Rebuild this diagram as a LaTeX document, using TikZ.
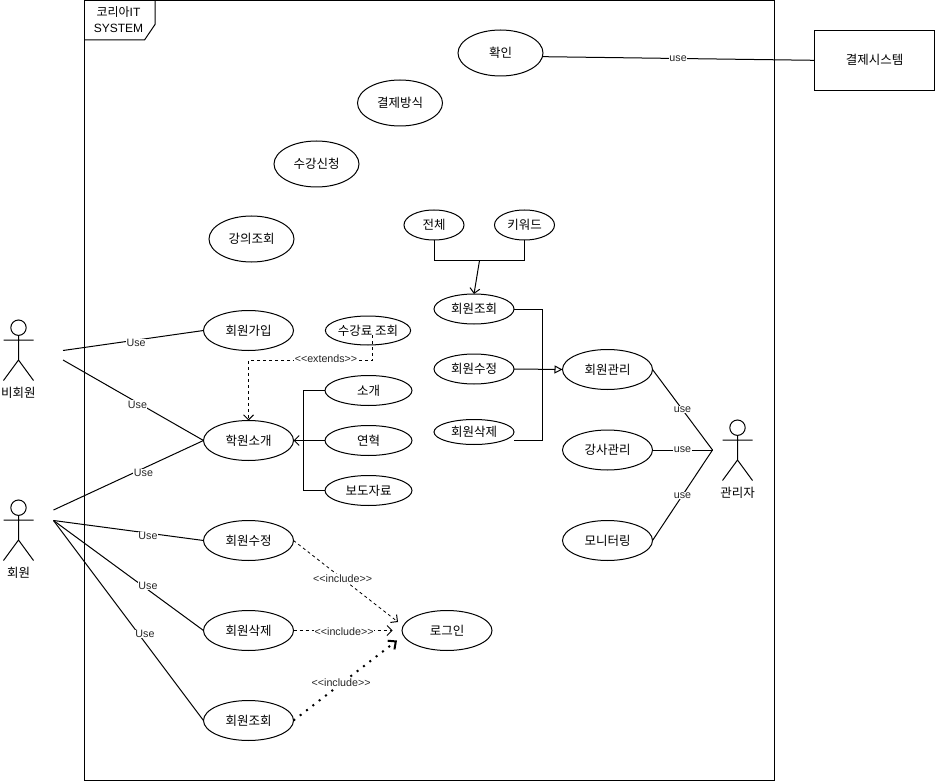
\documentclass[tikz,border=0pt]{standalone}
\usepackage{fontspec}
\setmainfont{Noto Sans CJK KR}
\newfontfamily\latinfont{Liberation Sans}
\usetikzlibrary{shapes.geometric,arrows.meta}

\tikzset{
  usecase/.style={ellipse, draw, line width=1pt, inner sep=0pt, outer sep=0pt,
    minimum width=#1, font=\fontsize{12.5}{15}\selectfont},
  usecase/.default=90pt,
  edgelabel/.style={fill=white, inner sep=.5pt, text=black!85,
    font=\latinfont\fontsize{10.7}{12}\selectfont},
  conn/.style={line width=1pt},
  opentip/.style={-{Straight Barb[length=5pt,width=10pt,line width=1pt]}},
  thindash/.style={line width=.8pt, dash pattern=on 3pt off 3pt},
  actortext/.style={font=\fontsize{12.5}{15}\selectfont, inner sep=0pt},
  actorpic/.pic={
    \draw[conn] (0,-12.3) circle (7.7);
    \draw[conn] (0,-4.6) -- (0,20) (-15,0) -- (15,0)
      (-15,40.5) -- (0,20) -- (15,40.5);
  }
}

\begin{document}
\begin{tikzpicture}[x=1pt,y=-1pt,line join=miter]
    \useasboundingbox (0,0) rectangle (935,781);

    %system frame
    \draw[conn] (84.5,0.5) rectangle (774.5,780);
    \draw[conn] (84.5,40) -- (144.5,40) -- (155,24.5) -- (155,0.5);
    \node[align=center, inner sep=0pt, font=\fontsize{12}{16}\selectfont] (title) at (118.5,20)
      {코리아{\latinfont IT}\\{\latinfont SYSTEM}};

    %use cases
    \node[usecase=85pt, minimum height=46pt] (hwagin) at (500.5,53) {확인};
    \node[usecase=85pt, minimum height=46pt] (bangsik) at (400,103) {결제방식};
    \node[usecase=85pt, minimum height=46pt] (sincheong) at (316.5,164) {수강신청};
    \node[usecase=85pt, minimum height=46pt] (gangui) at (251.5,239) {강의조회};
    \node[usecase, minimum height=40pt] (gaip) at (248.5,330.5) {회원가입};
    \node[usecase, minimum height=40pt] (sogae) at (248.5,440.5) {학원소개};
    \node[usecase, minimum height=40pt] (sujeong) at (248.5,540.5) {회원수정};
    \node[usecase, minimum height=40pt] (sakje) at (248.5,630.5) {회원삭제};
    \node[usecase, minimum height=40pt] (johoe) at (248.5,720.5) {회원조회};
    \node[usecase, minimum height=40pt] (login) at (447,630.5) {로그인};
    \node[usecase=85pt, minimum height=29pt] (fee) at (368,330.5) {수강료 조회};
    \node[usecase=87pt, minimum height=30pt] (intro) at (368.5,390.5) {소개};
    \node[usecase=87pt, minimum height=30pt] (history) at (368.5,440.5) {연혁};
    \node[usecase=87pt, minimum height=30pt] (press) at (368.5,490.5) {보도자료};
    \node[usecase=60pt, minimum height=30pt] (all) at (434,225) {전체};
    \node[usecase=60pt, minimum height=30pt] (keyword) at (524.5,225) {키워드};
    \node[usecase=80pt, minimum height=30pt] (mjohoe) at (474,309) {회원조회};
    \node[usecase=80pt, minimum height=30pt] (msujeong) at (474,369) {회원수정};
    \node[usecase=80pt, minimum height=25pt] (msakje) at (474,432) {회원삭제};
    \node[usecase, minimum height=40pt] (manage) at (607.5,369.5) {회원관리};
    \node[usecase, minimum height=40pt] (teacher) at (607.5,450) {강사관리};
    \node[usecase, minimum height=40pt] (monitor) at (607.5,540.5) {모니터링};

    %outside system
    \node[draw, line width=1pt, minimum width=120.5pt, minimum height=60pt, inner sep=0pt,
      font=\fontsize{12.5}{15}\selectfont] (pay) at (874.5,60.3) {결제시스템};

    %actors
    \pic at (18.5,340) {actorpic};
    \pic at (18.5,520) {actorpic};
    \pic at (737.5,440) {actorpic};
    \node[actortext] (guest) at (18.5,393) {비회원};
    \node[actortext] (member) at (18.5,573) {회원};
    \node[actortext] (admin) at (737.5,493) {관리자};

    %free ends
    \coordinate (guest1) at (63,350.5);
    \coordinate (guest2) at (63,360);
    \coordinate (member1) at (53.5,510);
    \coordinate (member2) at (53.5,520.5);
    \coordinate (adminhand) at (712.5,450);
    \coordinate (feeend) at (372.5,335);
    \coordinate (extbend) at (248.5,360.5);
    \coordinate (incl1) at (398,622);
    \coordinate (incl2) at (392.7,630.5);
    \coordinate (incl3) at (397,640.5);
    \coordinate (jointop) at (479.5,260.5);
    \coordinate (forkmid) at (542.5,369);
    \coordinate (deleteend) at (514,440);
    \coordinate (forkbar) at (303.5,440.5);

    %actor links
    \draw[conn] (guest1) -- node[edgelabel, pos=.52, yshift=-3pt] (use1) {Use} (gaip.west);
    \draw[conn] (guest2) -- node[edgelabel, pos=.53, yshift=-2pt] (use2) {Use} (sogae.west);
    \draw[conn] (member1) -- node[edgelabel, pos=.6, yshift=-5pt] (use3) {Use} (sogae.west);
    \draw[conn] (member2) -- node[edgelabel, pos=.63, yshift=-3pt] (use4) {Use} (sujeong.west);
    \draw[conn] (member2) -- node[edgelabel, pos=.63, yshift=4pt] (use5) {Use} (sakje.west);
    \draw[conn] (member2) -- node[edgelabel, pos=.61, yshift=8.5pt] (use6) {Use} (johoe.west);
    \draw[conn] (manage.east) -- node[edgelabel] (use7) {use} (adminhand);
    \draw[conn] (teacher.east) -- node[edgelabel] (use8) {use} (adminhand);
    \draw[conn] (monitor.east) -- node[edgelabel] (use9) {use} (adminhand);
    \draw[conn] (hwagin.-5) -- node[edgelabel] (use10) {use} (pay.west);

    %extends and include
    \draw[conn, dashed, opentip] (feeend) |- node[edgelabel, pos=.6875, yshift=2pt] (extlabel)
      {<{}<extends>{}>} (extbend) -- (sogae.north);
    \draw[thindash, opentip] (sujeong.east) -- node[edgelabel, pos=.47] (inc1)
      {<{}<include>{}>} (incl1);
    \draw[conn, dashed, opentip] (sakje.east) -- node[edgelabel, pos=.51, yshift=-1.5pt] (inc2)
      {<{}<include>{}>} (incl2);
    \draw[line width=2pt, dash pattern=on 2pt off 6pt,
      -{Straight Barb[length=6pt,width=11pt,line width=2pt]}] (johoe.east) --
      node[edgelabel, pos=.46, yshift=1.5pt] (inc3) {<{}<include>{}>} (incl3);

    %intro group
    \draw[conn] (intro.west) -| (forkbar) |- (press.west);
    \draw[conn, opentip] (history.west) -- (sogae.east);

    %member management group
    \draw[conn] (all.south) |- (jointop) -| (keyword.south);
    \draw[conn, opentip] (jointop) -- (mjohoe.north);
    \draw[conn] (mjohoe.east) -| (forkmid) |- (deleteend);
    \draw[conn, -{Triangle[open,length=8pt,width=8pt,line width=1pt]}] (msujeong.east) -- (manage.west);
\end{tikzpicture}
\end{document}
